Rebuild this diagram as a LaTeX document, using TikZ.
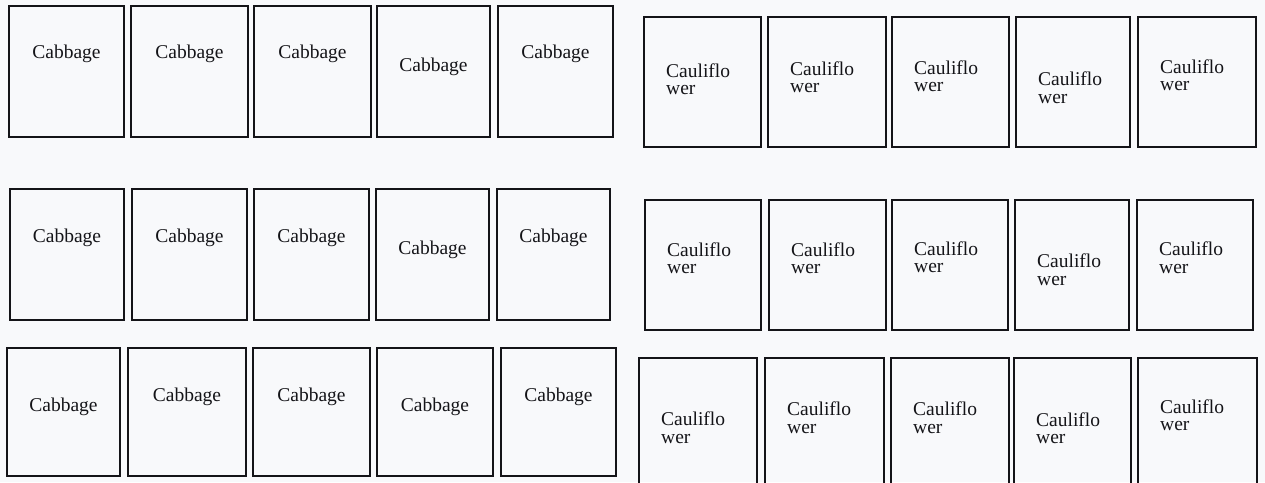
\documentclass[tikz,border=0pt]{standalone}
\usepackage{fontspec}
\setmainfont{Liberation Serif}
\usetikzlibrary{positioning}
\definecolor{scanPaper}{HTML}{F8F9FB}
\definecolor{scanInk}{HTML}{141418}
\tikzset{
  bed/.style  = {draw=scanInk, line width=2pt, inner sep=0pt, outer sep=0pt},
  crop/.style = {font=\fontsize{19.5}{17.5}\selectfont, text=scanInk,
                 inner sep=0pt, align=left},
}
\begin{document}
\begin{tikzpicture}[x=1pt, y=-1pt]
  \fill[scanPaper] (0,0) rectangle (1265,482);
  \clip (0,0) rectangle (1265,482);

  % cabbage beds: column / left / right / text y
  \foreach \c/\l/\r/\t in {1/9/124/54, 2/131/248/54, 3/254/371/54,
                           4/377/490/67, 5/498/613/54} {
    \node[bed, minimum width=\r-\l, minimum height=131] (cab-1-\c) at ({(\l+\r)/2}, 71.5) {};
    \node[crop] (cabtxt-1-\c) at ({(\l+\r)/2}, \t) {Cabbage};}
  \foreach \c/\l/\r/\t in {1/10/124/238, 2/132/247/238, 3/254/369/238,
                           4/376/489/250, 5/497/610/238} {
    \node[bed, minimum width=\r-\l, minimum height=131] (cab-2-\c) at ({(\l+\r)/2}, 254.5) {};
    \node[crop] (cabtxt-2-\c) at ({(\l+\r)/2}, \t) {Cabbage};}
  \foreach \c/\l/\r/\t in {1/7/120/407, 2/128/246/397, 3/253/370/397,
                           4/377/493/407, 5/501/616/397} {
    \node[bed, minimum width=\r-\l, minimum height=128] (cab-3-\c) at ({(\l+\r)/2}, 412) {};
    \node[crop] (cabtxt-3-\c) at ({(\l+\r)/2}, \t) {Cabbage};}

  % cauliflower beds: column / left / right / first line y / second line y
  \foreach \c/\l/\r/\a/\b in {1/644/761/71/89, 2/768/886/67/89, 3/892/1009/66/88,
                              4/1016/1130/77/100, 5/1138/1256/65/87} {
    \node[bed, minimum width=\r-\l, minimum height=130] (caul-1-\c) at ({(\l+\r)/2}, 82) {};
    \node[crop, anchor=west] (caultxt-1-\c) at ({\l+22}, {(\a+\b)/2-1}) {Cauliflo\\wer};}
  \foreach \c/\l/\r/\a/\b in {1/645/761/248/270, 2/769/886/248/270, 3/892/1008/247/269,
                              4/1015/1129/259/282, 5/1137/1253/247/270} {
    \node[bed, minimum width=\r-\l, minimum height=130] (caul-2-\c) at ({(\l+\r)/2}, 265) {};
    \node[crop, anchor=west] (caultxt-2-\c) at ({\l+22}, {(\a+\b)/2-1}) {Cauliflo\\wer};}
  \foreach \c/\l/\r/\a/\b in {1/639/757/417/440, 2/765/884/407/430, 3/891/1009/407/430,
                              4/1014/1131/418/440, 5/1138/1257/405/427} {
    \node[bed, minimum width=\r-\l, minimum height=137] (caul-3-\c) at ({(\l+\r)/2}, 426.5) {};
    \node[crop, anchor=west] (caultxt-3-\c) at ({\l+22}, {(\a+\b)/2-1}) {Cauliflo\\wer};}
\end{tikzpicture}
\end{document}
